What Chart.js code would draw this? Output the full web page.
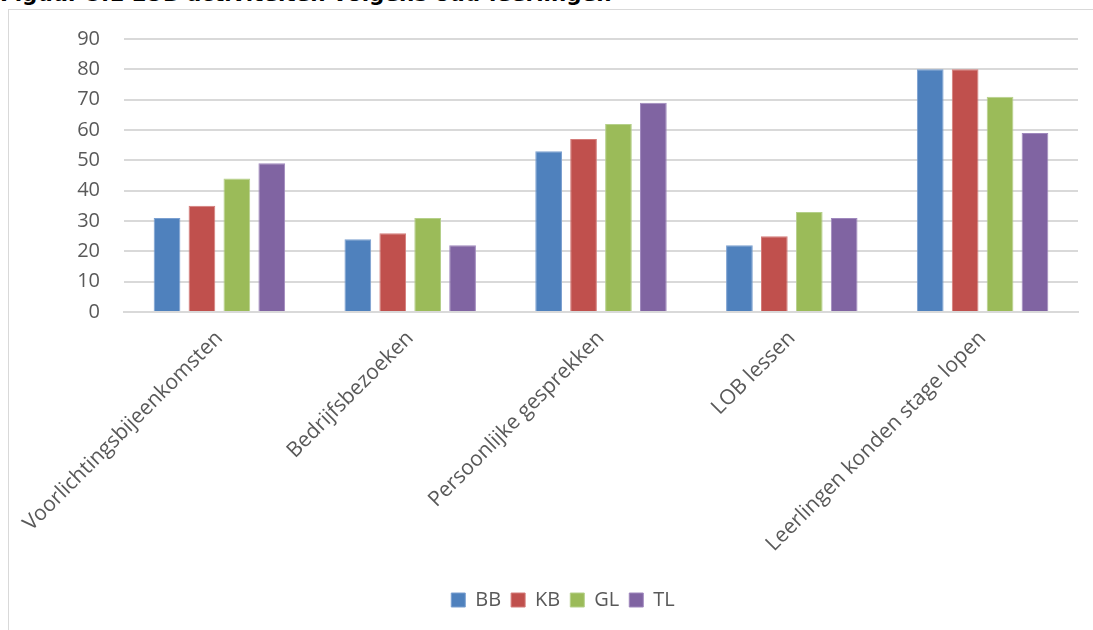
<!DOCTYPE html>
<html>
<head>
<meta charset="utf-8">
<script src="https://cdn.jsdelivr.net/npm/chart.js@4/dist/chart.umd.min.js"></script>
<style>
  html, body { margin: 0; padding: 0; background: #fff; width: 1093px; height: 630px; overflow: hidden; position: relative; }
  #title { position: absolute; left: 0; top: -19px; font-family: "DejaVu Sans", sans-serif; font-weight: bold; font-size: 21.5px; line-height: 26px; color: #000; white-space: nowrap; }
  #frame { position: absolute; left: 8px; top: 9px; width: 1200px; height: 800px; border: 1px solid #d9d9d9; box-sizing: border-box; background: #fff; }
  #wrap { position: absolute; left: 0; top: 0; width: 1093px; height: 630px; }
</style>
</head>
<body>
<div id="title">Figuur 5.1 LOB activiteiten volgens oud-leerlingen</div>
<div id="frame"></div>
<div id="wrap"><canvas id="c"></canvas></div>
<script>
const categories = ["Voorlichtingsbijeenkomsten", "Bedrijfsbezoeken", "Persoonlijke gesprekken", "LOB lessen", "Leerlingen konden stage lopen"];
const seriesNames = ["BB", "KB", "GL", "TL"];
const BB = [31, 24, 53, 22, 80];
const KB = [35, 26, 57, 25, 80];
const GL = [44, 31, 62, 33, 71];
const TL = [49, 22, 69, 31, 59];
const yTicks = [0, 10, 20, 30, 40, 50, 60, 70, 80, 90];

const fills = ["#4F81BD", "#C0504D", "#9BBB59", "#8064A2"];
const borders = ["#7A9FD0", "#D47C7A", "#B5D08A", "#9F88BD"];
const values = [BB, KB, GL, TL];

const textColor = "#595959";
const font = "'Open Sans', sans-serif";

new Chart(document.getElementById("c"), {
  type: "bar",
  data: {
    labels: categories,
    datasets: seriesNames.map((n, i) => ({
      label: n,
      data: values[i],
      backgroundColor: fills[i],
      borderColor: borders[i],
      borderWidth: 1,
      categoryPercentage: 0.732,
      barPercentage: 0.765
    }))
  },
  options: {
    responsive: true,
    maintainAspectRatio: false,
    animation: false,
    devicePixelRatio: 1,
    layout: { padding: { left: 48, right: 15, top: 39, bottom: 10 } },
    plugins: {
      legend: {
        position: "bottom",
        labels: {
          color: textColor,
          font: { family: font, size: 20 },
          boxWidth: 14,
          boxHeight: 14,
          padding: 10
        }
      },
      tooltip: { enabled: false }
    },
    scales: {
      x: {
        grid: { display: false, drawTicks: false },
        border: { display: true, color: "#d9d9d9", width: 2 },
        ticks: {
          color: textColor,
          font: { family: font, size: 21 },
          maxRotation: 45,
          minRotation: 45,
          padding: 14
        },
        afterFit: (s) => { s.height = 268; s.paddingLeft = 0; s.paddingRight = 0; }
      },
      y: {
        min: 0,
        max: 90,
        afterBuildTicks: (s) => { s.ticks = yTicks.map(v => ({ value: v })); },
        grid: { color: "#d9d9d9", lineWidth: 2, drawTicks: false },
        border: { display: false },
        ticks: {
          color: textColor,
          font: { family: font, size: 20 },
          padding: 24
        },
        afterFit: (s) => { s.width = 76; s.paddingTop = 0; s.paddingBottom = 0; }
      }
    }
  }
});
</script>
</body>
</html>
